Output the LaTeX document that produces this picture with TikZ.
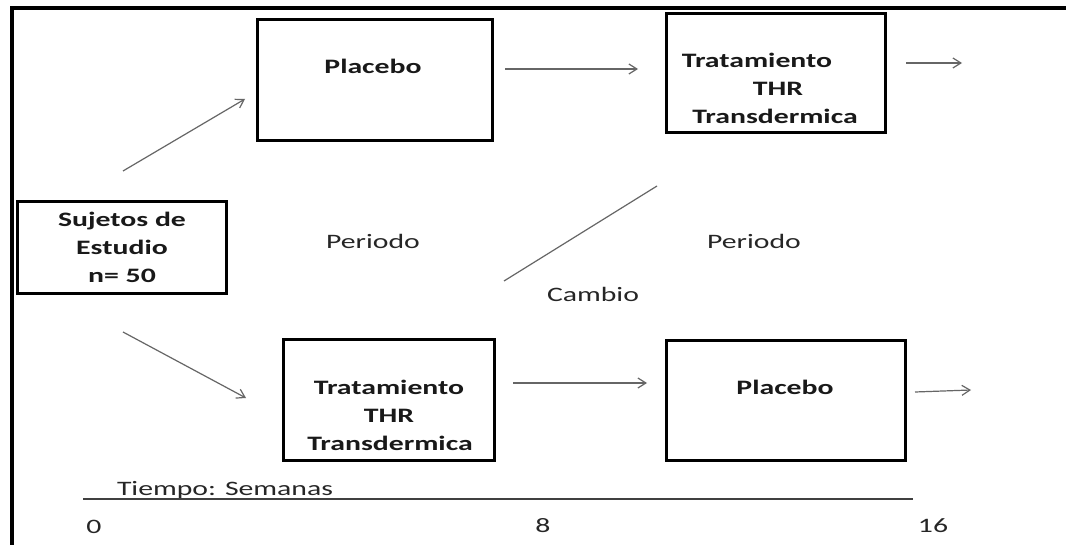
\documentclass[tikz,border=0pt]{standalone}
\usepackage{fontspec}
\setmainfont{Carlito}[FakeStretch=1.45]
\usetikzlibrary{arrows.meta}
\begin{document}
\begin{tikzpicture}[x=1pt,y=-1pt,
  box/.style={draw=black, line width=2.6pt, rectangle, inner sep=0pt},
  lbl/.style={font=\fontsize{20.5}{28}\selectfont, text=black!85, inner sep=0pt, anchor=mid},
  blbl/.style={font=\fontsize{20.5}{28}\selectfont\bfseries, text=black!90, inner sep=0pt, anchor=mid},
  arr/.style={draw=black!60, line width=1.2pt, -{Straight Barb[length=8pt,width=10pt]}},
  thin/.style={draw=black!60, line width=1.2pt},
  axis/.style={draw=black!75, line width=1.6pt},
  frame/.style={draw=black, line width=4pt, line join=miter}
  ]
\useasboundingbox (0,0) rectangle (1066,545);
\fill[white] (0,0) rectangle (1066,545);
% frame
\coordinate (fb) at (11.5,545);
\coordinate (fc) at (11.5,8);
\coordinate (fr) at (1066,8);
\draw[frame] (fb) -- (fc) -- (fr);

% boxes
\node[box, minimum width=235pt, minimum height=121pt] (plac1) at (375,80) {};
\node[box, minimum width=219pt, minimum height=119pt] (trat1) at (776,73) {};
\node[box, minimum width=209pt, minimum height=92pt, align=center,
      font=\fontsize{20.5}{28}\selectfont\bfseries, text=black!90] (suj) at (122,247.5)
      {\raisebox{-2pt}{\parbox{200pt}{\centering Sujetos de\\Estudio\\n= 50}}};
\node[box, minimum width=211pt, minimum height=121pt] (trat2) at (389,400) {};
\node[box, minimum width=239pt, minimum height=120pt] (plac2) at (786,400.5) {};

% box texts
\node[blbl] (tp1) at (373,71) {Placebo};
\node[blbl] (tt1a) at (757,65) {Tratamiento};
\node[blbl] (tt1b) at (778,93) {THR};
\node[blbl] (tt1c) at (775,121) {Transdermica};
\node[blbl] (tt2a) at (389,392) {Tratamiento};
\node[blbl] (tt2b) at (389,420) {THR};
\node[blbl] (tt2c) at (390,448) {Transdermica};
\node[blbl] (tp2) at (785,392) {Placebo};

% free labels
\node[lbl] (per1) at (373,246) {Periodo};
\node[lbl] (per2) at (754,246) {Periodo};
\node[lbl] (camb) at (593,299) {Cambio};
\node[lbl] (tiempo) at (225,493) {Tiempo: Semanas};
\node[lbl] (t0) at (94,531) {0};
\node[lbl] (t8) at (543,530) {8};
\node[lbl] (t16) at (933,530) {16};

% arrow end points
\coordinate (a1s) at (123,171); \coordinate (a1e) at (245,99);
\coordinate (a2s) at (123,332); \coordinate (a2e) at (246,398);
\coordinate (a3s) at (505,69);  \coordinate (a3e) at (638,69);
\coordinate (a4s) at (906,63);  \coordinate (a4e) at (962,63);
\coordinate (a5s) at (513,383); \coordinate (a5e) at (647,383);
\coordinate (a6s) at (915,392); \coordinate (a6e) at (971,390);
\coordinate (cs) at (504,281);  \coordinate (ce) at (657,186);
\coordinate (axs) at (83,499);  \coordinate (axe) at (913,499);

\draw[arr] (a1s) -- (a1e);
\draw[arr] (a2s) -- (a2e);
\draw[arr] (a3s) -- (a3e);
\draw[arr] (a4s) -- (a4e);
\draw[arr] (a5s) -- (a5e);
\draw[arr] (a6s) -- (a6e);
\draw[thin] (cs) -- (ce);
\draw[axis] (axs) -- (axe);
\end{tikzpicture}
\end{document}
